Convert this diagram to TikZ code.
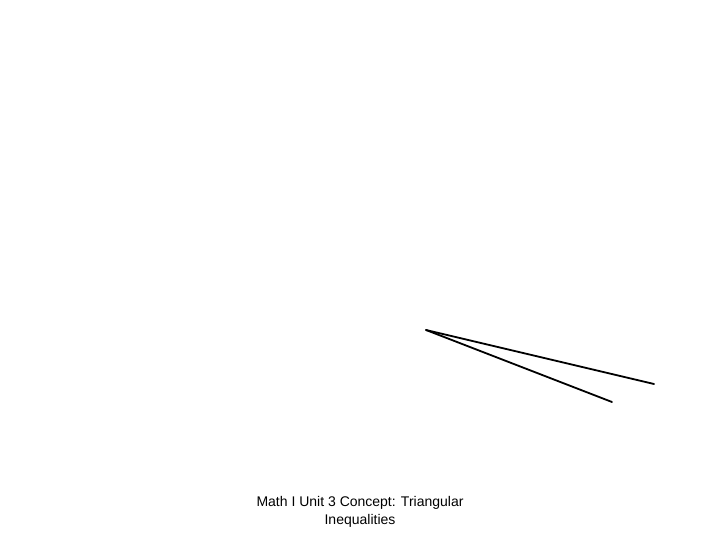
\documentclass[tikz,border=0pt]{standalone}
\usepackage{fontspec}
\setmainfont{Liberation Sans}
\begin{document}
\begin{tikzpicture}[line cap=round, line join=round, x=1pt, y=-1pt]

            \useasboundingbox (0,0) rectangle (720,540);

            \coordinate (vertex) at (426,330);
            \coordinate (longend) at (654,384);
            \coordinate (shortend) at (612,402);

            \draw[line width=1.8pt] (vertex) -- (longend);
            \draw[line width=1.8pt] (vertex) -- (shortend);

            \node[align=center, font=\fontsize{14}{18}\selectfont] (caption) at (360,512)
                {Math I Unit 3 Concept: Triangular\\Inequalities};

        \end{tikzpicture}
\end{document}
